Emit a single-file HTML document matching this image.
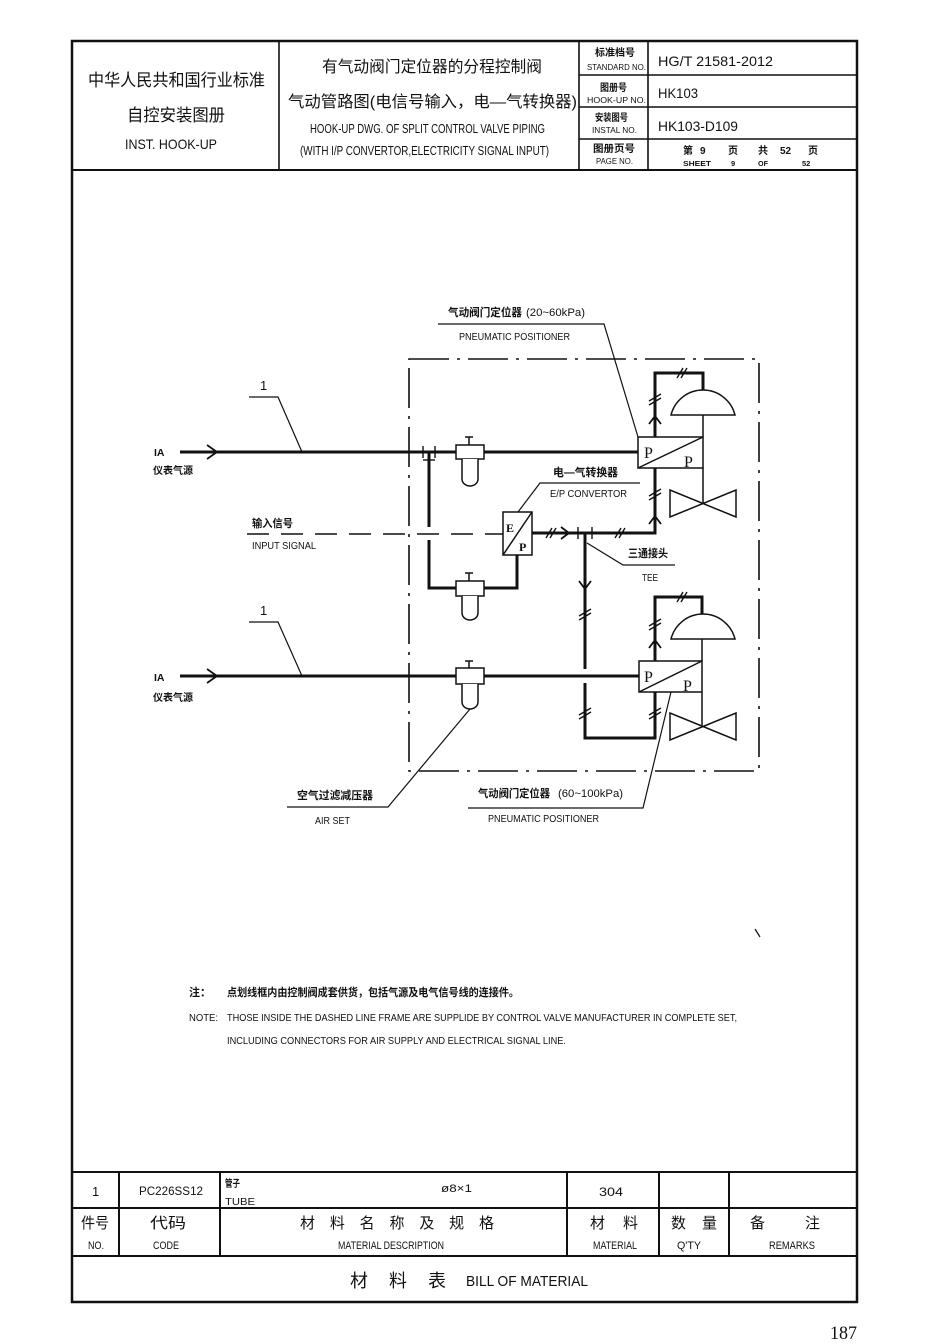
<!DOCTYPE html>
<html><head><meta charset="utf-8"><style>
html,body{margin:0;padding:0;background:#fff;}
svg{display:block;}
text{font-family:"Liberation Sans","Noto Sans CJK SC",sans-serif;fill:#111;}
.cn{font-family:"Liberation Sans","Noto Sans CJK SC",sans-serif;}
.b{font-weight:bold;}
.sf{font-family:"Liberation Serif","Noto Serif CJK SC",serif;}
</style></head><body>
<svg width="950" height="1344" viewBox="0 0 950 1344" xmlns="http://www.w3.org/2000/svg">
<rect width="950" height="1344" fill="#fff"/>

<!-- outer frame -->
<rect x="72" y="41" width="785" height="1261" fill="none" stroke="#111" stroke-width="2.5"/>
<!-- header -->
<g stroke="#111" stroke-width="1.6" fill="none">
  <line x1="72" y1="170" x2="857" y2="170" stroke-width="2"/>
  <line x1="279" y1="41" x2="279" y2="170"/>
  <line x1="579" y1="41" x2="579" y2="170"/>
  <line x1="648" y1="41" x2="648" y2="170"/>
  <line x1="579" y1="75" x2="857" y2="75"/>
  <line x1="579" y1="107" x2="857" y2="107"/>
  <line x1="579" y1="139" x2="857" y2="139"/>
</g>
<text x="88" y="86" font-size="17" textLength="177" lengthAdjust="spacingAndGlyphs">中华人民共和国行业标准</text>
<text x="127" y="121" font-size="17" textLength="98" lengthAdjust="spacingAndGlyphs">自控安装图册</text>
<text x="125" y="149" font-size="14" textLength="92" lengthAdjust="spacingAndGlyphs">INST. HOOK-UP</text>

<text x="322" y="72" font-size="16" textLength="220" lengthAdjust="spacingAndGlyphs">有气动阀门定位器的分程控制阀</text>
<text x="288" y="107" font-size="16" textLength="289" lengthAdjust="spacingAndGlyphs">气动管路图(电信号输入，电—气转换器)</text>
<text x="310" y="133" font-size="13" textLength="235" lengthAdjust="spacingAndGlyphs">HOOK-UP DWG. OF SPLIT CONTROL VALVE PIPING</text>
<text x="300" y="155" font-size="13" textLength="249" lengthAdjust="spacingAndGlyphs">(WITH I/P CONVERTOR,ELECTRICITY SIGNAL INPUT)</text>

<text x="595" y="56" font-size="10" class="b" textLength="40" lengthAdjust="spacingAndGlyphs">标准档号</text>
<text x="587" y="70" font-size="8" textLength="59" lengthAdjust="spacingAndGlyphs">STANDARD NO.</text>
<text x="600" y="91" font-size="10" class="b" textLength="27" lengthAdjust="spacingAndGlyphs">图册号</text>
<text x="587" y="103" font-size="8" textLength="59" lengthAdjust="spacingAndGlyphs">HOOK-UP NO.</text>
<text x="595" y="121" font-size="10" class="b" textLength="33" lengthAdjust="spacingAndGlyphs">安装图号</text>
<text x="592" y="133" font-size="8" textLength="45" lengthAdjust="spacingAndGlyphs">INSTAL NO.</text>
<text x="593" y="152" font-size="10" class="b" textLength="42" lengthAdjust="spacingAndGlyphs">图册页号</text>
<text x="596" y="164" font-size="8" textLength="37" lengthAdjust="spacingAndGlyphs">PAGE NO.</text>

<text x="658" y="66" font-size="14" textLength="115" lengthAdjust="spacingAndGlyphs">HG/T 21581-2012</text>
<text x="658" y="98" font-size="14" textLength="40" lengthAdjust="spacingAndGlyphs">HK103</text>
<text x="658" y="131" font-size="14" textLength="80" lengthAdjust="spacingAndGlyphs">HK103-D109</text>
<g font-size="10" class="b">
<text x="683" y="154" class="b">第</text>
<text x="700" y="154">9</text>
<text x="728" y="154" class="b">页</text>
<text x="758" y="154" class="b">共</text>
<text x="780" y="154">52</text>
<text x="808" y="154" class="b">页</text>
</g>
<g font-size="7.5" class="b">
<text x="683" y="166" textLength="28" lengthAdjust="spacingAndGlyphs">SHEET</text>
<text x="731" y="166">9</text>
<text x="758" y="166" textLength="10" lengthAdjust="spacingAndGlyphs">OF</text>
<text x="802" y="166">52</text>
</g>

<!-- ================= DIAGRAM ================= -->
<!-- dash-dot frame -->
<rect x="409" y="359" width="350" height="412" fill="none" stroke="#111" stroke-width="1.6" stroke-dasharray="40 8 3 8"/>

<!-- thick process lines -->
<g stroke="#111" stroke-width="3" fill="none" stroke-linejoin="miter">
  <!-- upper IA -->
  <line x1="180" y1="452" x2="638" y2="452"/>
  <!-- lower IA -->
  <line x1="180" y1="676" x2="639" y2="676"/>
  <!-- branch to E/P -->
  <polyline points="429,452 429,527"/>
  <polyline points="429,540 429,588 456,588"/>
  <polyline points="484,588 517,588 517,555"/>
  <!-- E/P output -->
  <polyline points="532,533 655,533 655,468"/>
  <!-- tee down -->
  <polyline points="585,533 585,669"/>
  <polyline points="585,683 585,738 655,738 655,692"/>
  <!-- upper loop -->
  <polyline points="655,437 655,373 703,373 703,392"/>
  <!-- lower loop -->
  <polyline points="655,661 655,597 702,597 702,616"/>
</g>

<!-- arrows (open chevrons) -->
<g stroke="#111" stroke-width="1.8" fill="none">
  <polyline points="207,445 217,452 207,459"/>
  <polyline points="207,669 217,676 207,683"/>
  <polyline points="561,527 569,533 561,539"/>
  <polyline points="649,424 655,416 661,424"/>
  <polyline points="649,524 655,516 661,524"/>
  <polyline points="579,581 585,589 591,581"/>
  <polyline points="649,648 655,640 661,648"/>
</g>
<!-- ticks // -->
<g stroke="#111" stroke-width="1.4" fill="none">
  <line x1="546" y1="538" x2="552" y2="528"/><line x1="550" y1="538" x2="556" y2="528"/>
  <line x1="615" y1="538" x2="621" y2="528"/><line x1="619" y1="538" x2="625" y2="528"/>
  <line x1="649" y1="496" x2="661" y2="489"/><line x1="649" y1="500" x2="661" y2="493"/>
  <line x1="677" y1="378" x2="683" y2="368"/><line x1="681" y1="378" x2="687" y2="368"/>
  <line x1="649" y1="401" x2="661" y2="394"/><line x1="649" y1="405" x2="661" y2="398"/>
  <line x1="579" y1="616" x2="591" y2="609"/><line x1="579" y1="620" x2="591" y2="613"/>
  <line x1="677" y1="602" x2="683" y2="592"/><line x1="681" y1="602" x2="687" y2="592"/>
  <line x1="649" y1="626" x2="661" y2="619"/><line x1="649" y1="630" x2="661" y2="623"/>
  <line x1="579" y1="715" x2="591" y2="708"/><line x1="579" y1="719" x2="591" y2="712"/>
  <line x1="649" y1="715" x2="661" y2="708"/><line x1="649" y1="719" x2="661" y2="712"/>
  <!-- tee ticks -->
  <line x1="578" y1="527" x2="578" y2="539"/><line x1="592" y1="527" x2="592" y2="539"/>
  <line x1="423" y1="446" x2="423" y2="458"/><line x1="435" y1="446" x2="435" y2="458"/>
  <line x1="423" y1="460" x2="435" y2="460"/>
</g>

<!-- filters (air sets) -->
<g stroke="#111" stroke-width="1.5" fill="#fff">
  <!-- filter 1 -->
  <line x1="469" y1="445" x2="469" y2="437"/><line x1="465" y1="437" x2="473" y2="437"/>
  <rect x="456" y="445" width="28" height="14"/>
  <path d="M462,459 L462,479 A8,7 0 0 0 478,479 L478,459"/>
  <!-- filter 2 -->
  <line x1="469" y1="581" x2="469" y2="573"/><line x1="465" y1="573" x2="473" y2="573"/>
  <rect x="456" y="581" width="28" height="15"/>
  <path d="M462,596 L462,613 A8,7 0 0 0 478,613 L478,596"/>
  <!-- filter 3 -->
  <line x1="469" y1="668" x2="469" y2="661"/><line x1="465" y1="661" x2="473" y2="661"/>
  <rect x="456" y="668" width="28" height="16"/>
  <path d="M462,684 L462,702 A8,7 0 0 0 478,702 L478,684"/>
</g>

<!-- E/P converter -->
<g stroke="#111" stroke-width="1.5" fill="#fff">
  <rect x="503" y="512" width="29" height="43"/>
  <line x1="503" y1="555" x2="532" y2="512"/>
</g>
<text x="506" y="532" font-size="12" class="sf b">E</text>
<text x="519" y="551" font-size="12" class="sf b">P</text>

<!-- positioners -->
<g stroke="#111" stroke-width="1.5" fill="#fff">
  <rect x="638" y="437" width="65" height="31"/>
  <line x1="638" y1="468" x2="703" y2="437"/>
  <rect x="639" y="661" width="63" height="31"/>
  <line x1="639" y1="692" x2="702" y2="661"/>
</g>
<text x="644" y="458" font-size="16" class="sf">P</text>
<text x="684" y="467" font-size="16" class="sf">P</text>
<text x="644" y="682" font-size="16" class="sf">P</text>
<text x="683" y="691" font-size="16" class="sf">P</text>

<!-- actuators, stems, valves -->
<g stroke="#111" stroke-width="1.5" fill="none">
  <path d="M671,415 A33,33 0 0 1 735,415 Z" fill="#fff"/>
  <line x1="703" y1="415" x2="703" y2="437"/>
  <line x1="703" y1="468" x2="703" y2="503"/>
  <path d="M670,490 L670,517 L736,490 L736,517 Z"/>
  <path d="M671,639 A33,33 0 0 1 735,639 Z" fill="#fff"/>
  <line x1="702" y1="639" x2="702" y2="661"/>
  <line x1="702" y1="692" x2="702" y2="727"/>
  <path d="M670,713 L670,740 L736,713 L736,740 Z"/>
</g>

<!-- input signal dashed line -->
<line x1="247" y1="534" x2="503" y2="534" stroke="#111" stroke-width="1.5" stroke-dasharray="22 12"/>

<!-- leaders -->
<g stroke="#111" stroke-width="1.2" fill="none">
  <polyline points="438,324 604,324 638,437"/>
  <polyline points="640,483 540,483 518,512"/>
  <polyline points="587,543 623,565 675,565"/>
  <polyline points="249,397 278,397 302,452"/>
  <polyline points="249,622 278,622 302,676"/>
  <polyline points="287,807 388,807 470,709"/>
  <polyline points="468,808 643,808 671,692"/>
  <line x1="755" y1="929" x2="760" y2="937"/>
</g>

<!-- diagram labels -->
<text x="448" y="316" font-size="11" class="b" textLength="74" lengthAdjust="spacingAndGlyphs">气动阀门定位器</text>
<text x="526" y="316" font-size="11" textLength="59" lengthAdjust="spacingAndGlyphs">(20~60kPa)</text>
<text x="459" y="340" font-size="10.5" textLength="111" lengthAdjust="spacingAndGlyphs">PNEUMATIC POSITIONER</text>
<text x="553" y="476" font-size="11" class="b" textLength="65" lengthAdjust="spacingAndGlyphs">电—气转换器</text>
<text x="550" y="497" font-size="10.5" textLength="77" lengthAdjust="spacingAndGlyphs">E/P CONVERTOR</text>
<text x="252" y="527" font-size="11" class="b" textLength="41" lengthAdjust="spacingAndGlyphs">输入信号</text>
<text x="252" y="549" font-size="10.5" textLength="64" lengthAdjust="spacingAndGlyphs">INPUT SIGNAL</text>
<text x="628" y="557" font-size="11" class="b" textLength="40" lengthAdjust="spacingAndGlyphs">三通接头</text>
<text x="642" y="581" font-size="10.5" textLength="16" lengthAdjust="spacingAndGlyphs">TEE</text>

<text x="154" y="456" font-size="10.5" class="b">IA</text>
<text x="153" y="474" font-size="10" class="b" textLength="40" lengthAdjust="spacingAndGlyphs">仪表气源</text>
<text x="154" y="681" font-size="10.5" class="b">IA</text>
<text x="153" y="701" font-size="10" class="b" textLength="40" lengthAdjust="spacingAndGlyphs">仪表气源</text>
<text x="260" y="390" font-size="13">1</text>
<text x="260" y="615" font-size="13">1</text>

<text x="297" y="799" font-size="11" class="b" textLength="76" lengthAdjust="spacingAndGlyphs">空气过滤减压器</text>
<text x="315" y="824" font-size="10.5" textLength="35" lengthAdjust="spacingAndGlyphs">AIR SET</text>
<text x="478" y="797" font-size="11" class="b" textLength="72" lengthAdjust="spacingAndGlyphs">气动阀门定位器</text>
<text x="558" y="797" font-size="11" textLength="65" lengthAdjust="spacingAndGlyphs">(60~100kPa)</text>
<text x="488" y="822" font-size="10.5" textLength="111" lengthAdjust="spacingAndGlyphs">PNEUMATIC POSITIONER</text>

<!-- notes -->
<text x="189" y="996" font-size="11" class="b">注：</text>
<text x="227" y="996" font-size="11" class="b" textLength="292" lengthAdjust="spacingAndGlyphs">点划线框内由控制阀成套供货，包括气源及电气信号线的连接件。</text>
<text x="189" y="1021" font-size="10.5" textLength="29" lengthAdjust="spacingAndGlyphs">NOTE:</text>
<text x="227" y="1021" font-size="10.5" textLength="510" lengthAdjust="spacingAndGlyphs">THOSE INSIDE THE DASHED LINE FRAME ARE SUPPLIDE BY CONTROL VALVE MANUFACTURER IN COMPLETE SET,</text>
<text x="227" y="1044" font-size="10.5" textLength="339" lengthAdjust="spacingAndGlyphs">INCLUDING CONNECTORS FOR AIR SUPPLY AND ELECTRICAL SIGNAL LINE.</text>

<!-- ================= BILL OF MATERIAL ================= -->
<g stroke="#111" stroke-width="2" fill="none">
  <line x1="72" y1="1172" x2="857" y2="1172"/>
  <line x1="72" y1="1208" x2="857" y2="1208"/>
  <line x1="72" y1="1256" x2="857" y2="1256"/>
  <line x1="119" y1="1172" x2="119" y2="1256"/>
  <line x1="220" y1="1172" x2="220" y2="1256"/>
  <line x1="567" y1="1172" x2="567" y2="1256"/>
  <line x1="659" y1="1172" x2="659" y2="1256"/>
  <line x1="729" y1="1172" x2="729" y2="1256"/>
</g>
<text x="92" y="1196" font-size="13">1</text>
<text x="139" y="1195" font-size="12" textLength="64" lengthAdjust="spacingAndGlyphs">PC226SS12</text>
<text x="225" y="1187" font-size="10" class="b" textLength="15" lengthAdjust="spacingAndGlyphs">管子</text>
<text x="225" y="1205" font-size="10.5" textLength="30" lengthAdjust="spacingAndGlyphs">TUBE</text>
<text x="441" y="1192" font-size="11" textLength="31" lengthAdjust="spacingAndGlyphs">ø8×1</text>
<text x="599" y="1196" font-size="12" textLength="24" lengthAdjust="spacingAndGlyphs">304</text>

<text x="81" y="1228" font-size="15" textLength="28" lengthAdjust="spacingAndGlyphs">件号</text>
<text x="88" y="1249" font-size="11" textLength="16" lengthAdjust="spacingAndGlyphs">NO.</text>
<text x="150" y="1228" font-size="15" textLength="36" lengthAdjust="spacingAndGlyphs">代码</text>
<text x="153" y="1249" font-size="11" textLength="26" lengthAdjust="spacingAndGlyphs">CODE</text>
<text x="300" y="1228" font-size="15" textLength="194" lengthAdjust="spacing">材 料 名 称 及 规 格</text>
<text x="338" y="1249" font-size="11" textLength="106" lengthAdjust="spacingAndGlyphs">MATERIAL DESCRIPTION</text>
<text x="590" y="1228" font-size="15" textLength="48" lengthAdjust="spacing">材 料</text>
<text x="593" y="1249" font-size="11" textLength="44" lengthAdjust="spacingAndGlyphs">MATERIAL</text>
<text x="671" y="1228" font-size="15" textLength="46" lengthAdjust="spacing">数 量</text>
<text x="677" y="1249" font-size="11" textLength="24" lengthAdjust="spacingAndGlyphs">Q'TY</text>
<text x="750" y="1228" font-size="15" textLength="70" lengthAdjust="spacing">备 注</text>
<text x="769" y="1249" font-size="11" textLength="46" lengthAdjust="spacingAndGlyphs">REMARKS</text>

<text x="350" y="1287" font-size="18" textLength="96" lengthAdjust="spacing">材 料 表</text>
<text x="466" y="1286" font-size="15" textLength="122" lengthAdjust="spacingAndGlyphs">BILL OF MATERIAL</text>

<!-- page number -->
<text x="830" y="1339" font-size="19" class="sf" textLength="27" lengthAdjust="spacingAndGlyphs">187</text>
</svg>
</body></html>
